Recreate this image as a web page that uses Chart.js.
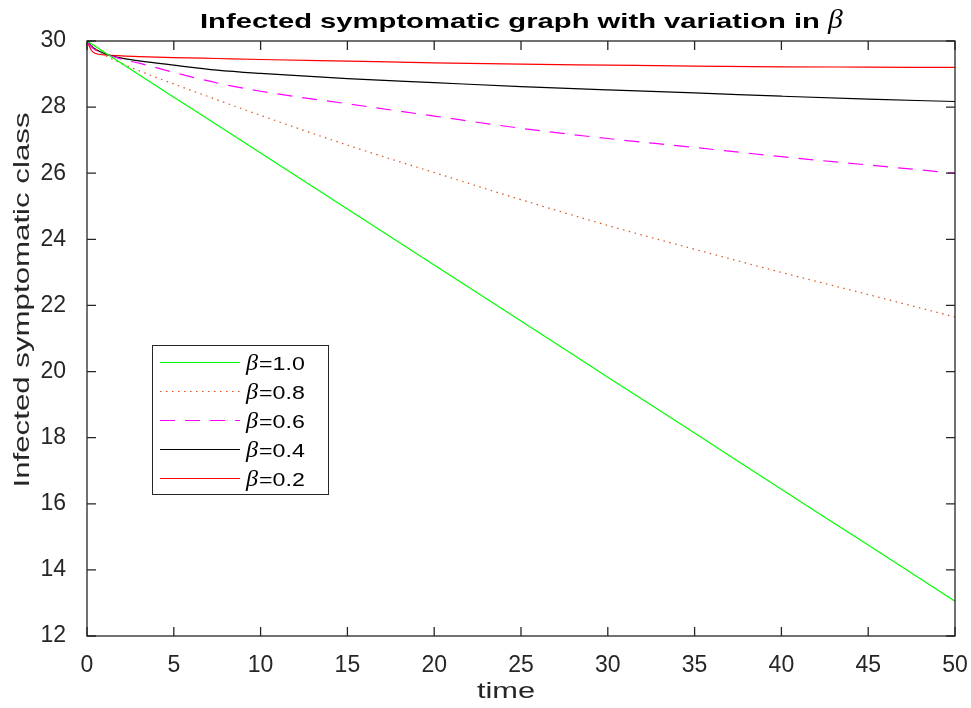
<!DOCTYPE html>
<html lang="en">
<head>
    <meta charset="UTF-8">
    <title>Infected symptomatic graph</title>
    <script src="https://cdn.jsdelivr.net/npm/chart.js@4.4.0/dist/chart.umd.min.js"></script>
    <style>
        html, body { margin: 0; padding: 0; background: #ffffff; }
        .chart-box { width: 971px; height: 708px; position: relative; }
    </style>
</head>
<body>
    <div class="chart-box">
        <canvas id="infChart"></canvas>
    </div>

    <script>
        // time points shared by all curves
        const times = [0, 0.25, 0.5, 1, 2, 3, 5, 7.5, 10, 15, 20, 25, 30, 35, 40, 45, 50];

        // infected symptomatic class, one array per beta value
        const beta10 = [30, 29.92, 29.83, 29.66, 29.32, 28.98, 28.30, 27.46, 26.61, 24.92, 23.22, 21.53, 19.83, 18.14, 16.44, 14.75, 13.05];
        const beta08 = [30, 29.87, 29.75, 29.58, 29.32, 29.10, 28.70, 28.22, 27.75, 26.85, 26.02, 25.20, 24.42, 23.70, 23.00, 22.33, 21.65];
        const beta06 = [30, 29.82, 29.72, 29.62, 29.45, 29.33, 29.05, 28.73, 28.48, 28.10, 27.73, 27.36, 27.05, 26.78, 26.50, 26.25, 26.00];
        const beta04 = [30, 29.85, 29.75, 29.62, 29.48, 29.40, 29.27, 29.12, 29.02, 28.86, 28.74, 28.62, 28.52, 28.43, 28.33, 28.24, 28.17];
        const beta02 = [30, 29.72, 29.62, 29.58, 29.55, 29.53, 29.50, 29.47, 29.44, 29.39, 29.34, 29.30, 29.27, 29.24, 29.22, 29.21, 29.20];

        const legendLabels = ['=1.0', '=0.8', '=0.6', '=0.4', '=0.2'];
        const xTicks = [0, 5, 10, 15, 20, 25, 30, 35, 40, 45, 50];
        const yTicks = [12, 14, 16, 18, 20, 22, 24, 26, 28, 30];

        const axisColor = '#262626';
        const sans = '"Liberation Sans", Arial, Helvetica, sans-serif';
        const serif = '"Liberation Serif", "Times New Roman", serif';

        function pts(ys) {
            return times.map((t, i) => ({ x: t, y: ys[i] }));
        }

        const series = [
            { data: beta10, color: '#00ff00', dash: [] },
            { data: beta08, color: '#d95319', dash: [1.5, 4.5] },
            { data: beta06, color: '#ff00ff', dash: [15, 10] },
            { data: beta04, color: '#000000', dash: [] },
            { data: beta02, color: '#ff0000', dash: [] }
        ];

        // text drawn wider than the font, like the exported figure
        function wideText(ctx, text, x, y, font, sx) {
            ctx.save();
            ctx.font = font;
            ctx.translate(x, y);
            ctx.scale(sx, 1);
            ctx.fillText(text, 0, 0);
            ctx.restore();
            ctx.font = font;
            return ctx.measureText(text).width * sx;
        }

        // box, inward ticks, title, axis labels and legend in MATLAB style
        const matlabStyle = {
            id: 'matlabStyle',
            afterDraw(chart) {
                const ctx = chart.ctx;
                const a = chart.chartArea;
                const xs = chart.scales.x;
                const ys = chart.scales.y;
                ctx.save();
                ctx.strokeStyle = axisColor;
                ctx.lineWidth = 1.3;
                ctx.strokeRect(a.left, a.top, a.right - a.left, a.bottom - a.top);
                ctx.beginPath();
                xTicks.forEach(v => {
                    const px = xs.getPixelForValue(v);
                    ctx.moveTo(px, a.bottom); ctx.lineTo(px, a.bottom - 9);
                    ctx.moveTo(px, a.top); ctx.lineTo(px, a.top + 9);
                });
                yTicks.forEach(v => {
                    const py = ys.getPixelForValue(v);
                    ctx.moveTo(a.left, py); ctx.lineTo(a.left + 9, py);
                    ctx.moveTo(a.right, py); ctx.lineTo(a.right - 9, py);
                });
                ctx.stroke();

                // title, stretched to the reference width
                const tText = 'Infected symptomatic graph with variation in ';
                const tFont = 'bold 21px ' + sans;
                const bFont = 'italic 27px ' + serif;
                ctx.font = tFont;
                const sx = 628 / ctx.measureText(tText).width;
                ctx.fillStyle = '#000';
                ctx.textAlign = 'left';
                ctx.textBaseline = 'alphabetic';
                const w1 = wideText(ctx, tText, 200, 28, tFont, sx);
                wideText(ctx, '\u03b2', 200 + w1, 28, bFont, 1.1);

                // axis titles
                ctx.fillStyle = '#262626';
                ctx.font = '22px ' + sans;
                const xl = 'time';
                const xw = ctx.measureText(xl).width * 1.4;
                wideText(ctx, xl, 506 - xw / 2, 698, '22px ' + sans, 1.4);
                ctx.save();
                ctx.translate(29, 300);
                ctx.rotate(-Math.PI / 2);
                const yl = 'Infected symptomatic class';
                const yw = ctx.measureText(yl).width * 1.42;
                wideText(ctx, yl, -yw / 2, 0, '22px ' + sans, 1.42);
                ctx.restore();

                // legend
                const lx = a.left + 65, ly = a.top + 304, lw = 176, lh = 149;
                ctx.fillStyle = '#fff';
                ctx.fillRect(lx, ly, lw, lh);
                ctx.strokeStyle = axisColor;
                ctx.lineWidth = 1;
                ctx.strokeRect(lx + 0.5, ly + 0.5, lw, lh);
                series.forEach((s, i) => {
                    const yy = ly + 17.5 + i * 29;
                    ctx.beginPath();
                    ctx.strokeStyle = s.color;
                    ctx.lineWidth = 1.2;
                    ctx.setLineDash(s.dash);
                    ctx.moveTo(lx + 8, yy);
                    ctx.lineTo(lx + 88, yy);
                    ctx.stroke();
                    ctx.setLineDash([]);
                    ctx.fillStyle = '#000';
                    ctx.textBaseline = 'alphabetic';
                    const bw = wideText(ctx, '\u03b2', lx + 94, yy + 7, 'italic 23px ' + serif, 1.05);
                    wideText(ctx, legendLabels[i], lx + 95 + bw, yy + 7, '19px ' + sans, 1.22);
                });
                ctx.restore();
            }
        };

        const ctx = document.getElementById('infChart').getContext('2d');
        new Chart(ctx, {
            type: 'line',
            data: {
                datasets: series.map((s, i) => ({
                    label: 'beta' + legendLabels[i],
                    data: pts(s.data),
                    borderColor: s.color,
                    borderWidth: 1.2,
                    borderDash: s.dash,
                    pointRadius: 0,
                    fill: false,
                    cubicInterpolationMode: 'monotone'
                }))
            },
            options: {
                responsive: true,
                maintainAspectRatio: false,
                animation: false,
                layout: { padding: { top: 41, right: 16, left: 0, bottom: 0 } },
                plugins: {
                    legend: { display: false },
                    tooltip: { enabled: false }
                },
                scales: {
                    x: {
                        type: 'linear',
                        min: 0,
                        max: 50,
                        grid: { display: false },
                        border: { display: false },
                        afterBuildTicks: (s) => { s.ticks = xTicks.map(v => ({ value: v })); },
                        afterFit: (s) => { s.height = 72; s.paddingLeft = 0; s.paddingRight = 0; },
                        ticks: {
                            color: axisColor,
                            padding: 8,
                            maxRotation: 0,
                            font: { family: sans, size: 23 }
                        }
                    },
                    y: {
                        min: 12,
                        max: 30,
                        grid: { display: false },
                        border: { display: false },
                        afterBuildTicks: (s) => { s.ticks = yTicks.map(v => ({ value: v })); },
                        afterFit: (s) => { s.width = 87; s.paddingTop = 0; s.paddingBottom = 0; },
                        ticks: {
                            color: axisColor,
                            padding: 13,
                            font: { family: sans, size: 23 }
                        }
                    }
                }
            },
            plugins: [matlabStyle]
        });
    </script>
</body>
</html>
